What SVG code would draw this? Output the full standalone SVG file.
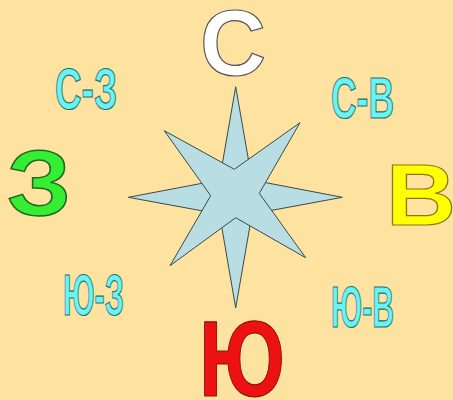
<svg xmlns="http://www.w3.org/2000/svg" width="453" height="400" viewBox="0 0 453 400">
<style>
.big{font-family:"Liberation Sans",Arial,sans-serif;font-weight:bold;stroke-width:1.2}
.small{font-family:"Liberation Sans",Arial,sans-serif;font-weight:bold;font-size:58px;fill:#66F4F4;stroke:#2E6E6E;stroke-width:1.2}
.star{fill:#B8DDE3;stroke:#3A4A4A;stroke-width:1;stroke-linejoin:miter}
</style>
<rect width="453" height="400" fill="#FDE2A0"/>
<g id="star">
<polygon class="star" points="235.7,86.7 252,180 342.3,197.3 252,214 235.7,308 219.5,214 128.3,197.3 219.5,180"/>
<polygon class="star" points="164.3,130.7 234.3,169.3 300,122.7 259.3,193.3 305.7,257.7 235.7,217.7 170,265.7 210.7,195.7"/>
</g>
<g id="north"><text class="big" x="200" y="75" font-size="93" fill="#FFFFFF" stroke="#555555" textLength="66" lengthAdjust="spacingAndGlyphs">С</text></g>
<g id="west" transform="translate(7,215) scale(1,1.22)"><text class="big" x="0" y="0" font-size="76" fill="#33EE33" stroke="#226622" textLength="64" lengthAdjust="spacingAndGlyphs">&#x0417;</text></g>
<g id="east"><text class="big" x="386" y="225" font-size="88" fill="#FFFF00" stroke="#8A7A10" textLength="70" lengthAdjust="spacingAndGlyphs">В</text></g>
<g id="south"><text class="big" x="199" y="396" font-size="107" fill="#EE1111" stroke="#881111" textLength="86" lengthAdjust="spacingAndGlyphs">Ю</text></g>
<g id="nw"><text class="small" x="55" y="109" textLength="62" lengthAdjust="spacingAndGlyphs">С-З</text></g>
<g id="ne"><text class="small" x="331" y="118" font-size="54" textLength="63" lengthAdjust="spacingAndGlyphs">С-В</text></g>
<g id="sw"><text class="small" x="63" y="315" textLength="61" lengthAdjust="spacingAndGlyphs">Ю-З</text></g>
<g id="se"><text class="small" x="331" y="327" textLength="63" lengthAdjust="spacingAndGlyphs">Ю-В</text></g>
</svg>
